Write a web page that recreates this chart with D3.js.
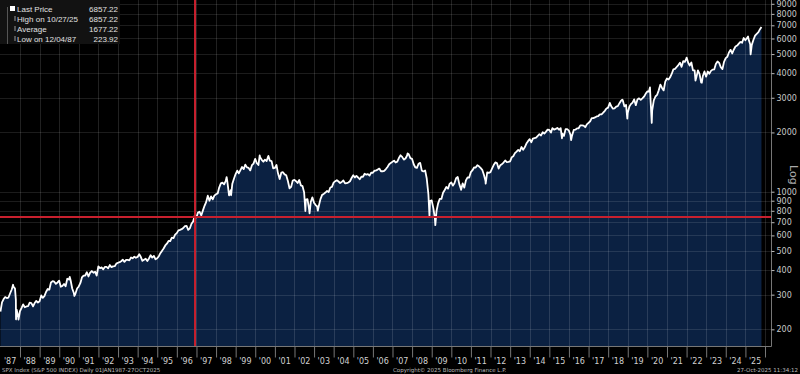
<!DOCTYPE html>
<html>
<head>
<meta charset="utf-8">
<script src="https://cdn.jsdelivr.net/npm/d3@7"></script>
<style>
  body { margin: 0; background: #000; overflow: hidden; }
  svg { display: block; }
</style>
</head>
<body>
<div id="chart"></div>
<script>
// SPX month-end closes, one row per year (Jan..Dec)
var closeYears = [1987,1988,1989,1990,1991,1992,1993,1994,1995,1996,1997,1998,1999,2000,2001,2002,2003,2004,2005,2006,2007,2008,2009,2010,2011,2012,2013,2014,2015,2016,2017,2018,2019,2020,2021,2022,2023,2024,2025]
var closeRows = [
  [274.08,284.20,291.70,288.36,290.10,304.00,318.66,329.80,321.83,251.79,230.30,247.08],
  [257.07,267.82,258.89,261.33,262.16,273.50,272.02,261.52,271.91,278.97,273.70,277.72],
  [297.47,288.86,294.87,309.64,320.52,317.98,346.08,351.45,349.15,340.36,345.99,353.40],
  [329.08,331.89,339.94,330.80,361.23,358.02,356.15,322.56,306.05,304.00,322.22,330.22],
  [343.93,367.07,375.22,375.34,389.83,371.16,387.81,395.43,387.86,392.45,375.22,417.09],
  [408.79,412.70,403.69,414.95,415.35,408.14,424.21,414.03,417.80,418.68,431.35,435.71],
  [438.78,443.38,451.67,440.19,450.19,450.53,448.13,463.56,458.93,467.83,461.79,466.45],
  [481.61,467.14,445.77,450.91,456.50,444.27,458.26,475.49,462.69,472.35,453.69,459.27],
  [470.42,487.39,500.71,514.71,533.40,544.75,562.06,561.88,584.41,581.50,605.37,615.93],
  [636.02,640.43,645.50,654.17,669.12,670.63,639.95,651.99,687.33,705.27,757.02,740.74],
  [786.16,790.82,757.12,801.34,848.28,885.14,954.29,899.47,947.28,914.62,955.40,970.43],
  [980.28,1049.34,1101.75,1111.75,1090.82,1133.84,1120.67,957.28,1017.01,1098.67,1163.63,1229.23],
  [1279.64,1238.33,1286.37,1335.18,1301.84,1372.71,1328.72,1320.41,1282.71,1362.93,1388.91,1469.25],
  [1394.46,1366.42,1498.58,1452.43,1420.60,1454.60,1430.83,1517.68,1436.51,1429.40,1314.95,1320.28],
  [1366.01,1239.94,1160.33,1249.46,1255.82,1224.38,1211.23,1133.58,1040.94,1059.78,1139.45,1148.08],
  [1130.20,1106.73,1147.39,1076.92,1067.14,989.82,911.62,916.07,815.28,885.76,936.31,879.82],
  [855.70,841.15,848.18,916.92,963.59,974.50,990.31,1008.01,995.97,1050.71,1058.20,1111.92],
  [1131.13,1144.94,1126.21,1107.30,1120.68,1140.84,1101.72,1104.24,1114.58,1130.20,1173.82,1211.92],
  [1181.27,1203.60,1180.59,1156.85,1191.50,1191.33,1234.18,1220.33,1228.81,1207.01,1249.48,1248.29],
  [1280.08,1280.66,1294.83,1310.61,1270.09,1270.20,1276.66,1303.82,1335.85,1377.94,1400.63,1418.30],
  [1438.24,1406.82,1420.86,1482.37,1530.62,1503.35,1455.27,1473.99,1526.75,1549.38,1481.14,1468.36],
  [1378.55,1330.63,1322.70,1385.59,1400.38,1280.00,1267.38,1282.83,1166.36,968.75,896.24,903.25],
  [825.88,735.09,797.87,872.81,919.14,919.32,987.48,1020.62,1057.08,1036.19,1095.63,1115.10],
  [1073.87,1104.49,1169.43,1186.69,1089.41,1030.71,1101.60,1049.33,1141.20,1183.26,1180.55,1257.64],
  [1286.12,1327.22,1325.83,1363.61,1345.20,1320.64,1292.28,1218.89,1131.42,1253.30,1246.96,1257.60],
  [1312.41,1365.68,1408.47,1397.91,1310.33,1362.16,1379.32,1406.58,1440.67,1412.16,1416.18,1426.19],
  [1498.11,1514.68,1569.19,1597.57,1630.74,1606.28,1685.73,1632.97,1681.55,1756.54,1805.81,1848.36],
  [1782.59,1859.45,1872.34,1883.95,1923.57,1960.23,1930.67,2003.37,1972.29,2018.05,2067.56,2058.90],
  [1994.99,2104.50,2067.89,2085.51,2107.39,2063.11,2103.84,1972.18,1920.03,2079.36,2080.41,2043.94],
  [1940.24,1932.23,2059.74,2065.30,2096.95,2098.86,2173.60,2170.95,2168.27,2126.15,2198.81,2238.83],
  [2278.87,2363.64,2362.72,2384.20,2411.80,2423.41,2470.30,2471.65,2519.36,2575.26,2647.58,2673.61],
  [2823.81,2713.83,2640.87,2648.05,2705.27,2718.37,2816.29,2901.52,2913.98,2711.74,2760.17,2506.85],
  [2704.10,2784.49,2834.40,2945.83,2752.06,2941.76,2980.38,2926.46,2976.74,3037.56,3140.98,3230.78],
  [3225.52,2954.22,2584.59,2912.43,3044.31,3100.29,3271.12,3500.31,3363.00,3269.96,3621.63,3756.07],
  [3714.24,3811.15,3972.89,4181.17,4204.11,4297.50,4395.26,4522.68,4307.54,4605.38,4567.00,4766.18],
  [4515.55,4373.94,4530.41,4131.93,4132.15,3785.38,4130.29,3955.00,3585.62,3871.98,4080.11,3839.50],
  [4076.60,3970.15,4109.31,4169.48,4179.83,4450.38,4588.96,4507.66,4288.05,4193.80,4567.80,4769.83],
  [4845.65,5096.27,5254.35,5035.69,5277.51,5460.48,5522.30,5648.40,5762.48,5705.45,6032.38,5881.63],
  [6040.53,5954.50,5611.85,5569.06,5911.69,6204.95,6339.39,6460.26,6688.46]
]

// daily closes for peaks / troughs between month ends
var extraDates = ["1987-01-02","1987-08-25","1987-10-16","1987-10-19","1987-12-04","1990-07-16","1990-10-11",
  "1998-07-17","1998-10-08","2000-03-24","2000-09-01","2002-07-23","2002-10-09","2003-03-11","2007-10-09",
  "2008-11-20","2009-03-09","2010-07-02","2011-10-03","2015-08-25","2016-02-11","2018-09-20","2018-12-24",
  "2020-02-19","2020-03-23","2022-01-03","2022-06-16","2022-10-12","2025-02-19","2025-04-08","2025-10-27"]
var extraValues = [246.45,336.77,282.70,224.84,223.92,368.95,295.46,
  1186.75,959.44,1527.46,1520.77,797.70,776.76,800.73,1565.15,
  752.44,676.53,1022.58,1099.23,1867.61,1829.08,2930.75,2351.10,
  3386.15,2237.40,4796.56,3666.77,3577.03,6144.15,4982.77,6857.22]

var legendLabels = ["Last Price", "High on 10/27/25", "Average", "Low on 12/04/87"]
var legendValues = ["6857.22", "6857.22", "1677.22", "223.92"]

var yTicks = [200,300,400,500,600,700,800,900,1000,2000,3000,4000,5000,6000,7000,8000,9000]

// crosshair: 5 Dec 1996
var markDate = "1996-12-05", markValue = 744.38

var width = 800, height = 374
var plotRight = 771, plotBottom = 346

var parse = d3.timeParse("%Y-%m-%d")
var data = []
closeYears.forEach(function (yr, i) {
  closeRows[i].forEach(function (v, m) {
    data.push({ date: new Date(yr, m + 1, 0), value: v })
  })
})
extraDates.forEach(function (d, i) {
  data.push({ date: parse(d), value: extraValues[i] })
})
data.sort(function (a, b) { return a.date - b.date })

var x = d3.scaleTime()
    .domain([new Date(1987, 0, 1), new Date(2026, 0, 1)])
    .range([0.4, 765])
var y = d3.scaleLog()
    .domain([164.6, 9410])
    .range([plotBottom, 0])

var svg = d3.select("#chart")
  .append("svg")
    .attr("width", width)
    .attr("height", height)
    .style("background", "#000")

// area under the price line
svg.append("path")
    .datum(data)
    .attr("fill", "#0b2142")
    .attr("d", d3.area()
      .x(function (d) { return x(d.date) })
      .y0(plotBottom)
      .y1(function (d) { return y(d.value) }))

// grid
var years = d3.timeYear.range(new Date(1988, 0, 1), new Date(2026, 0, 2))
svg.append("g")
  .selectAll("line")
  .data(years)
  .enter().append("line")
    .attr("x1", function (d) { return Math.round(x(d)) + 0.5 })
    .attr("x2", function (d) { return Math.round(x(d)) + 0.5 })
    .attr("y1", 0)
    .attr("y2", plotBottom)
    .attr("stroke", "#fff")
    .attr("stroke-opacity", 0.13)

svg.append("g")
  .selectAll("line")
  .data(yTicks)
  .enter().append("line")
    .attr("x1", 0)
    .attr("x2", plotRight)
    .attr("y1", function (d) { return Math.round(y(d)) + 0.5 })
    .attr("y2", function (d) { return Math.round(y(d)) + 0.5 })
    .attr("stroke", "#fff")
    .attr("stroke-opacity", 0.11)

// price line
svg.append("path")
    .datum(data)
    .attr("fill", "none")
    .attr("stroke", "#fff")
    .attr("stroke-width", 1.8)
    .attr("stroke-linejoin", "round")
    .attr("d", d3.line()
      .x(function (d) { return x(d.date) })
      .y(function (d) { return y(d.value) }))

// crosshair
svg.append("line")
    .attr("x1", 0).attr("x2", plotRight)
    .attr("y1", y(markValue)).attr("y2", y(markValue))
    .attr("stroke", "#c8202e")
    .attr("stroke-width", 2)
svg.append("line")
    .attr("x1", x(parse(markDate))).attr("x2", x(parse(markDate)))
    .attr("y1", 0).attr("y2", plotBottom)
    .attr("stroke", "#c8202e")
    .attr("stroke-width", 2)

// frame
svg.append("path")
    .attr("d", "M" + (plotRight + 0.5) + ",0V" + (plotBottom + 0.5) + "H0")
    .attr("fill", "none")
    .attr("stroke", "#777")

// right log axis
var yAxis = svg.append("g")
    .attr("transform", "translate(" + (plotRight + 0.5) + ",0)")
    .call(d3.axisRight(y).tickValues(yTicks).tickFormat(d3.format("d")).tickSize(3).tickPadding(2))
yAxis.select(".domain").remove()
yAxis.selectAll(".tick line").attr("stroke", "#bbb")
yAxis.selectAll("text")
    .attr("fill", "#c8c8c8")
    .style("font", "8px 'DejaVu Sans'")

svg.append("text")
    .attr("transform", "translate(790,165) rotate(90)")
    .attr("fill", "#aaa")
    .style("font", "11px 'DejaVu Sans'")
    .text("Log")

// bottom year axis: separators at year starts, labels mid-year
var xAxis = svg.append("g")
    .attr("transform", "translate(0," + (plotBottom + 0.5) + ")")
    .call(d3.axisBottom(x).tickValues(years).tickSize(11).tickFormat(""))
xAxis.select(".domain").remove()
xAxis.selectAll(".tick line").attr("stroke", "#777")

var labelYears = d3.timeYear.range(new Date(1987, 0, 1), new Date(2026, 0, 1))
svg.append("g")
  .selectAll("text")
  .data(labelYears)
  .enter().append("text")
    .attr("x", function (d) { return x(d3.timeMonth.offset(d, 6)) })
    .attr("y", 364)
    .attr("text-anchor", "middle")
    .attr("fill", "#d0d0d0")
    .style("font", "8px 'DejaVu Sans'")
    .text(d3.timeFormat("'%y"))

// footer
var footer = svg.append("g")
    .attr("fill", "#bbb")
    .style("font", "5.5px 'DejaVu Sans'")
footer.append("text").attr("x", 2).attr("y", 372).text("SPX Index (S&P 500 INDEX) Daily 01JAN1987-27OCT2025")
footer.append("text").attr("x", 393).attr("y", 372).text("Copyright\u00a9 2025 Bloomberg Finance L.P.")
footer.append("text").attr("x", 798).attr("y", 372).attr("text-anchor", "end").text("27-Oct-2025 11:34:12")

// legend
var legend = svg.append("g")
legend.append("rect")
    .attr("x", 0).attr("y", 0)
    .attr("width", 120).attr("height", 44)
    .attr("fill", "#121212")
legend.append("line")
    .attr("x1", 7.5).attr("x2", 7.5)
    .attr("y1", 7).attr("y2", 44)
    .attr("stroke", "#555")
legend.append("rect")
    .attr("x", 10).attr("y", 6)
    .attr("width", 5).attr("height", 5)
    .attr("fill", "#fff")
var rows = legend.selectAll(".row")
    .data(legendLabels)
  .enter().append("g")
    .attr("transform", function (d, i) { return "translate(0," + (12 + i * 10) + ")" })
    .style("font", "8px 'Liberation Sans'")
    .attr("fill", "#e0e0e0")
rows.filter(function (d, i) { return i > 0 })
  .append("line")
    .attr("x1", 15).attr("x2", 15)
    .attr("y1", -6).attr("y2", -1)
    .attr("stroke", "#999")
rows.append("text")
    .attr("x", 17)
    .text(function (d) { return d })
rows.append("text")
    .attr("x", 118)
    .attr("text-anchor", "end")
    .text(function (d, i) { return legendValues[i] })
</script>
</body>
</html>
